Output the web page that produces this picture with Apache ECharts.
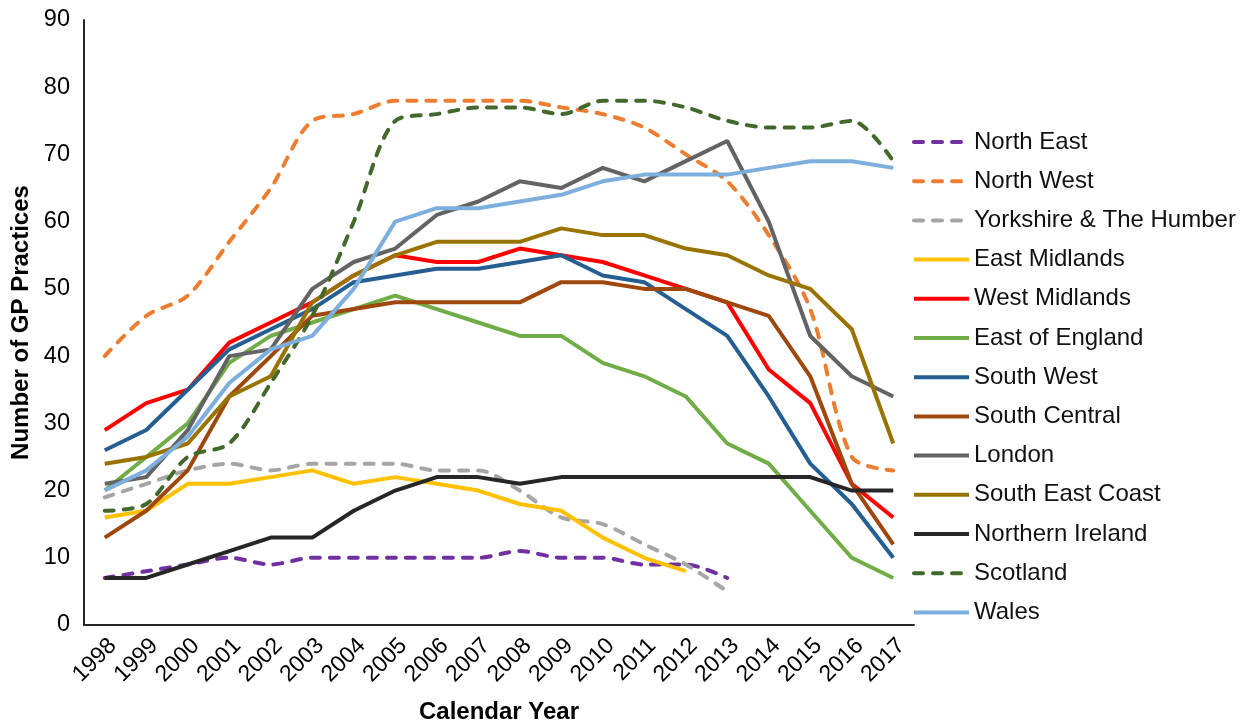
<!DOCTYPE html>
<html>
<head>
<meta charset="utf-8">
<title>GP Practices by Region</title>
<script src="https://cdn.jsdelivr.net/npm/echarts@6/dist/echarts.min.js"></script>
<style>
  html, body { margin: 0; padding: 0; background: #ffffff; overflow: hidden; }
  #chart { width: 1254px; height: 722px; }
</style>
</head>
<body>
<div id="chart"></div>
<script>
// Calendar years on the x axis
const years = ['1998','1999','2000','2001','2002','2003','2004','2005','2006','2007',
               '2008','2009','2010','2011','2012','2013','2014','2015','2016','2017'];

// Number of GP practices per region and year (null = no data)
const northEast      = [7, 8, 9, 10, 9, 10, 10, 10, 10, 10, 11, 10, 10, 9, 9, 7, null, null, null, null];
const northWest      = [40, 46, 49, 57, 65, 75, 76, 78, 78, 78, 78, 77, 76, 74, 70, 66, 58, 47, 25, 23];
const yorkshire      = [19, 21, 23, 24, 23, 24, 24, 24, 23, 23, 20, 16, 15, 12, 9, 5, null, null, null, null];
const eastMidlands   = [16, 17, 21, 21, 22, 23, 21, 22, 21, 20, 18, 17, 13, 10, 8, null, null, null, null, null];
const westMidlands   = [29, 33, 35, 42, 45, 48, 52, 55, 54, 54, 56, 55, 54, 52, 50, 48, 38, 33, 21, 16];
const eastOfEngland  = [20, 25, 30, 39, 43, 45, 47, 49, 47, 45, 43, 43, 39, 37, 34, 27, 24, 17, 10, 7];
const southWest      = [26, 29, 35, 41, 44, 47, 51, 52, 53, 53, 54, 55, 52, 51, 47, 43, 34, 24, 18, 10];
const southCentral   = [13, 17, 23, 34, 40, 46, 47, 48, 48, 48, 48, 51, 51, 50, 50, 48, 46, 37, 21, 12];
const london         = [21, 22, 29, 40, 41, 50, 54, 56, 61, 63, 66, 65, 68, 66, 69, 72, 60, 43, 37, 34];
const southEastCoast = [24, 25, 27, 34, 37, 48, 52, 55, 57, 57, 57, 59, 58, 58, 56, 55, 52, 50, 44, 27];
const northernIreland= [7, 7, 9, 11, 13, 13, 17, 20, 22, 22, 21, 22, 22, 22, 22, 22, 22, 22, 20, 20];
const scotland       = [17, 18, 25, 27, 36, 46, 60, 75, 76, 77, 77, 76, 78, 78, 77, 75, 74, 74, 75, 69];
const wales          = [20, 23, 28, 36, 41, 43, 50, 60, 62, 62, 63, 64, 66, 67, 67, 67, 68, 69, 69, 68];

// Y axis range
const yMin = 0, yMax = 90, yStep = 10;

const regions = [
  { name: 'North East',               data: northEast,       color: '#7030A0', dashed: true },
  { name: 'North West',               data: northWest,       color: '#ED7D31', dashed: true },
  { name: 'Yorkshire & The Humber',   data: yorkshire,       color: '#A5A5A5', dashed: true },
  { name: 'East Midlands',            data: eastMidlands,    color: '#FFC000', dashed: false },
  { name: 'West Midlands',            data: westMidlands,    color: '#FF0000', dashed: false },
  { name: 'East of England',          data: eastOfEngland,   color: '#70AD47', dashed: false },
  { name: 'South West',               data: southWest,       color: '#255E91', dashed: false },
  { name: 'South Central',            data: southCentral,    color: '#9E480E', dashed: false },
  { name: 'London',                   data: london,          color: '#636363', dashed: false },
  { name: 'South East Coast',         data: southEastCoast,  color: '#997300', dashed: false },
  { name: 'Northern Ireland',         data: northernIreland, color: '#262626', dashed: false },
  { name: 'Scotland',                 data: scotland,        color: '#43682B', dashed: true },
  { name: 'Wales',                    data: wales,           color: '#7CAFDD', dashed: false }
];

const FONT = 'Liberation Sans, Arial, sans-serif';
const DASH = [9, 10];

const chart = echarts.init(document.getElementById('chart'), null, { renderer: 'canvas' });

chart.setOption({
  backgroundColor: '#ffffff',
  animation: false,
  grid: {
    left: 84, right: 340, top: 20, bottom: 97,
    containLabel: false,
    outerBoundsMode: 'none'
  },
  legend: {
    orient: 'vertical',
    left: 912,
    top: 130,
    padding: 0,
    itemWidth: 55,
    itemHeight: 14,
    itemGap: 15.2,
    itemStyle: { opacity: 0 },
    lineStyle: { width: 4 },
    textStyle: { fontFamily: FONT, fontSize: 24, color: '#111' },
    data: regions.map(r => r.name)
  },
  xAxis: {
    type: 'category',
    data: years,
    boundaryGap: true,
    name: 'Calendar Year',
    nameLocation: 'middle',
    nameGap: 75,
    nameTextStyle: { fontFamily: FONT, fontSize: 24, fontWeight: 'bold', color: '#000' },
    axisLine: { lineStyle: { color: '#262626', width: 2 } },
    axisTick: { show: false },
    axisLabel: {
      rotate: 45, fontFamily: FONT, fontSize: 23, color: '#000',
      margin: 9, interval: 0, verticalAlign: 'top'
    },
    splitLine: { show: false }
  },
  yAxis: {
    type: 'value',
    min: yMin,
    max: yMax,
    interval: yStep,
    name: 'Number of GP Practices',
    nameLocation: 'middle',
    nameGap: 43,
    nameTextStyle: { fontFamily: FONT, fontSize: 24, fontWeight: 'bold', color: '#000' },
    axisLine: { show: true, lineStyle: { color: '#262626', width: 2 } },
    axisTick: { show: false },
    axisLabel: { fontFamily: FONT, fontSize: 23.5, color: '#000', margin: 14 },
    splitLine: { show: false }
  },
  series: regions.map(r => ({
    name: r.name,
    type: 'line',
    data: r.data,
    symbol: 'none',
    smooth: r.dashed ? 0.3 : false,
    connectNulls: false,
    color: r.color,
    lineStyle: {
      color: r.color,
      width: 4,
      type: r.dashed ? DASH : 'solid',
      cap: r.dashed ? 'round' : 'butt'
    },
    emphasis: { disabled: true }
  }))
});
</script>
</body>
</html>
